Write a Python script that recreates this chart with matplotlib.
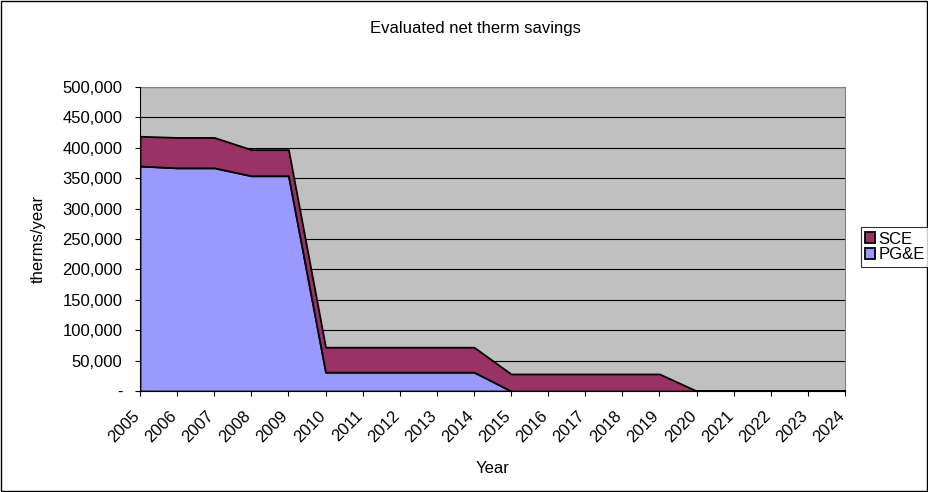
import matplotlib
matplotlib.use("Agg")
import matplotlib.pyplot as plt
from matplotlib.ticker import FuncFormatter
from matplotlib.patches import Rectangle
from matplotlib.transforms import ScaledTranslation

plt.rcParams['font.family'] = ['Liberation Sans', 'DejaVu Sans']

years = list(range(2005, 2025))
pge = [370000, 367000, 367000, 354000, 354000,
       31000, 31000, 31000, 31000, 31000,
       0, 0, 0, 0, 0,
       0, 0, 0, 0, 0]
sce = [49000, 50000, 50000, 43000, 43000,
       41000, 41000, 41000, 41000, 41000,
       28000, 28000, 28000, 28000, 28000,
       0, 300, 300, 300, 300]

W, H = 929, 492
fig = plt.figure(figsize=(W / 100, H / 100), dpi=100)
fig.patches.append(Rectangle((0.001, 0.002), 0.997, 0.996, transform=fig.transFigure,
                             fill=False, edgecolor='black', linewidth=1))

# plot area in pixels: left 140, right 845, top 87, bottom 391
ax = fig.add_axes([140 / W, 1 - 391 / H, 705 / W, 304 / H])
ax.set_facecolor('#C0C0C0')

ax.stackplot(years, pge, sce, colors=['#9999FF', '#993366'],
             edgecolor='black', linewidth=1.3, labels=['PG&E', 'SCE'], zorder=3)

ax.set_xlim(2005, 2024)
ax.set_ylim(0, 500000)
ax.set_yticks(range(0, 500001, 50000))
ax.yaxis.set_major_formatter(FuncFormatter(lambda v, p: '-' if v == 0 else f'{int(v):,}'))
ax.set_xticks(years)
ax.set_xticklabels([str(y) for y in years], rotation=45, ha='right', rotation_mode='anchor')
ax.grid(axis='y', color='black', linewidth=0.8, zorder=1)
ax.set_axisbelow(True)

for s in ['top', 'right']:
    ax.spines[s].set_color('#808080')
for s in ['left', 'bottom']:
    ax.spines[s].set_color('black')
    ax.spines[s].set_zorder(4)

fs = 12
ax.tick_params(axis='both', labelsize=fs, direction='out', length=3.6, color='black')
ax.tick_params(axis='x', pad=9)
ax.tick_params(axis='y', pad=9)
shift = ScaledTranslation(-8 / 100, 0, fig.dpi_scale_trans)
for lbl in ax.get_xticklabels():
    lbl.set_transform(lbl.get_transform() + shift)

ax.set_ylabel('therms/year', fontsize=fs, labelpad=12)
ax.set_xlabel('Year', fontsize=fs, labelpad=11)
fig.text(475 / W, 1 - 29 / H, 'Evaluated net therm savings', ha='center', va='center', fontsize=fs)

handles, labels = ax.get_legend_handles_labels()
leg = fig.legend(handles[::-1], labels[::-1], loc='center left',
                 bbox_to_anchor=(861 / W, 1 - 247 / H), fontsize=fs,
                 frameon=True, fancybox=False, edgecolor='black',
                 handlelength=0.6, handleheight=0.6, handletextpad=0.2,
                 borderpad=0.25, labelspacing=0.05, borderaxespad=0)
leg.get_frame().set_linewidth(0.8)

fig.savefig('out.png', dpi=100, facecolor='white')
